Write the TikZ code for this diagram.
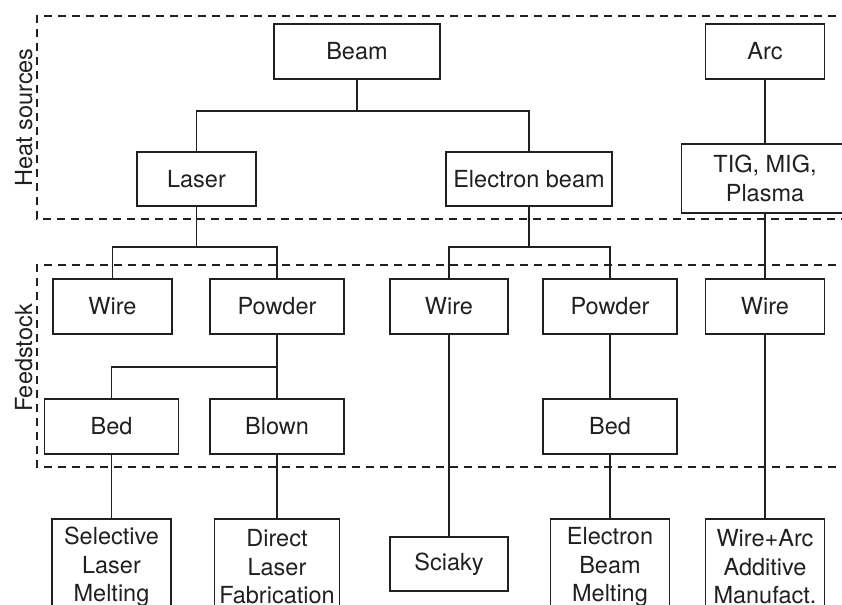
\documentclass[tikz,border=0pt]{standalone}
\usepackage{fontspec}
\setmainfont{TeX Gyre Heros}
\definecolor{ink}{RGB}{35,31,32}
\begin{document}
\begin{tikzpicture}[x=1bp,y=-1bp,line width=1.4bp,draw=ink,
  mybox/.style 2 args={draw=ink,minimum width=#1bp,minimum height=#2bp,inner sep=2bp,
    align=center,text=ink,font=\fontsize{23.5bp}{28.5bp}\selectfont},
  region/.style={draw=ink,line width=1.3bp,dash pattern=on 8bp off 6bp},
  sidelabel/.style={rotate=90,anchor=base,text=ink,font=\fontsize{23.5bp}{28.5bp}\selectfont}]
\useasboundingbox (0,0) rectangle (842,605);
\clip (0,0) rectangle (842,605);
% regions
\draw[region] (850,16) -- (37,16) -- (37,219) -- (850,219);
\draw[region] (850,265) -- (37,265) -- (37,467) -- (850,467);
\node[sidelabel] (hs) at (32,117.5) {Heat sources};
\node[sidelabel] (fs) at (32,358) {Feedstock};
% heat sources
\node[mybox={166}{55}] (beam) at (357,51.5) {Beam};
\node[mybox={119}{55}] (arc) at (765,51.5) {Arc};
\node[mybox={119}{54}] (laser) at (196.5,179) {Laser};
\node[mybox={166}{54}] (eb) at (529,179) {Electron beam};
\node[mybox={167}{69}] (tig) at (765,178.5) {TIG, MIG,\\Plasma};
% feedstock
\node[mybox={119}{55}] (lwire) at (112.5,306.5) {Wire};
\node[mybox={134}{55}] (lpowder) at (277,306.5) {Powder};
\node[mybox={118}{55}] (ewire) at (449,306.5) {Wire};
\node[mybox={134}{55}] (epowder) at (610,306.5) {Powder};
\node[mybox={119}{55}] (awire) at (765,306.5) {Wire};
\node[mybox={134}{55}] (lbed) at (111.5,426.5) {Bed};
\node[mybox={134}{55}] (blown) at (277,426.5) {Blown};
\node[mybox={134}{55}] (ebed) at (610,426.5) {Bed};
% processes
\node[mybox={119}{96}] (slm) at (111.5,567) {Selective\\Laser\\Melting};
\node[mybox={125}{96}] (dlf) at (277,567) {Direct\\Laser\\Fabrication};
\node[mybox={118}{54}] (sciaky) at (449,564) {Sciaky};
\node[mybox={119}{96}] (ebm) at (610,567) {Electron\\Beam\\Melting};
\node[mybox={119}{96}] (waam) at (765,567) {Wire+Arc\\Additive\\Manufact.};
% junctions
\coordinate (jb) at (357,111);
\coordinate (jl) at (196.5,247);
\coordinate (je) at (529,247);
\coordinate (jp) at (277,367);
% connectors
\draw (beam.south) -- (jb);
\draw (laser.north) |- (jb) -| (eb.north);
\draw (arc.south) -- (tig.north);
\draw (laser.south) -- (jl);
\draw (lwire.north) |- (jl) -| (lpowder.north);
\draw (eb.south) -- (je);
\draw (ewire.north) |- (je) -| (epowder.north);
\draw (tig.south) -- (awire.north);
\draw (lpowder.south) -- (jp);
\draw (lbed.north) |- (jp) -- (blown.north);
\draw (epowder.south) -- (ebed.north);
\draw (lbed.south) -- (slm.north);
\draw (blown.south) -- (dlf.north);
\draw (ewire.south) -- (sciaky.north);
\draw (ebed.south) -- (ebm.north);
\draw (awire.south) -- (waam.north);
\end{tikzpicture}
\end{document}
